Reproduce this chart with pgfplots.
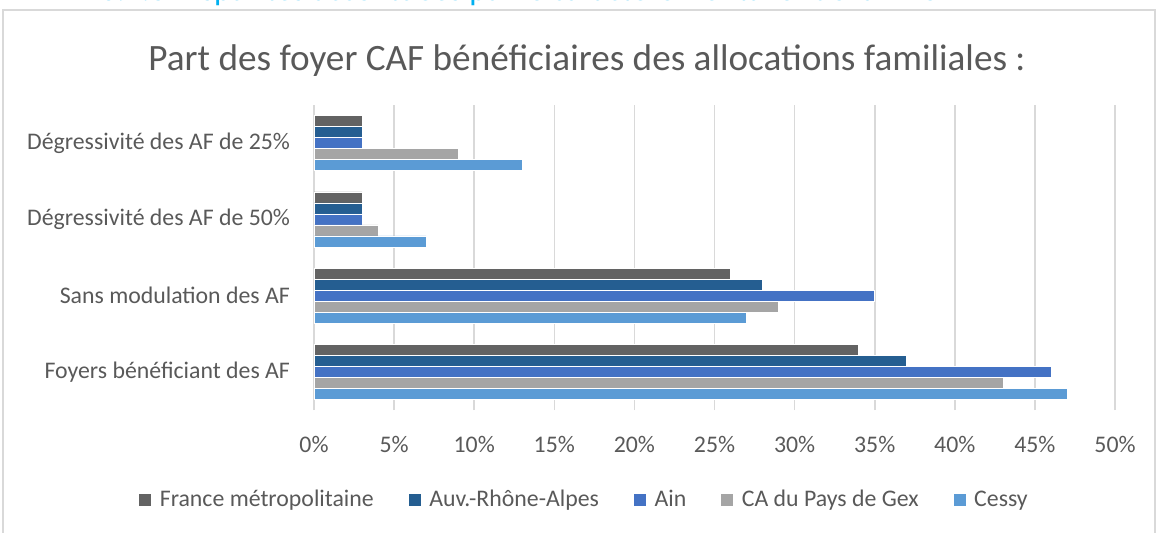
\documentclass[border=0pt]{standalone}
\usepackage{pgfplots}
\pgfplotsset{compat=1.18}
\usepackage{fontspec}
\setmainfont{Carlito}
\definecolor{cFrance}{HTML}{636363}
\definecolor{cAuv}{HTML}{255E91}
\definecolor{cAin}{HTML}{4472C4}
\definecolor{cGex}{HTML}{A5A5A5}
\definecolor{cCessy}{HTML}{5B9BD5}
\definecolor{txt}{HTML}{595959}
\definecolor{cGrid}{HTML}{D9D9D9}
\definecolor{head}{HTML}{00B0F0}
\begin{document}
\begin{tikzpicture}
\useasboundingbox (0,0) rectangle (578pt,266pt);
\clip (0,0) rectangle (578pt,266pt);
% heading of the page, cut by the crop
\node[anchor=base west,inner sep=0pt,text=head,font=\fontsize{16.3}{18}\selectfont] at (50pt,265.5pt)
  {3.1.3 Disparités accentuées par le caractère frontalier de la ville};
% chart frame
\draw[cGrid,line width=0.7pt] (1.5pt,-10pt) rectangle (577.5pt,261pt);
\node[anchor=base,inner sep=0pt,text=txt,font=\fontsize{18.6}{21}\selectfont] at (293.5pt,231pt)
  {Part des foyer CAF bénéficiaires des allocations familiales :};
\begin{axis}[
  at={(157pt,61pt)},anchor=south west,
  scale only axis,width=400.5pt,height=152.5pt,
  xbar,bar width=5.5pt,
  xmin=0,xmax=50,ymin=-0.5,ymax=3.5,
  xtick={0,5,...,50},
  xticklabels={0\%,5\%,10\%,15\%,20\%,25\%,30\%,35\%,40\%,45\%,50\%},
  ytick={0,1,2,3},
  yticklabels={Foyers bénéficiant des AF,Sans modulation des AF,Dégressivité des AF de 50\%,Dégressivité des AF de 25\%},
  xmajorgrids,major grid style={cGrid,line width=0.8pt},
  axis line style={draw=none},major tick length=0pt,
  tick label style={text=txt,font=\fontsize{11.9}{13}\selectfont},
  xticklabel style={yshift=-9.5pt},
  yticklabel style={xshift=-8.5pt},
  legend columns=-1,
  legend style={at={(0.3383,-0.295)},anchor=center,draw=none,fill=none,
    text=txt,font=\fontsize{11.9}{13}\selectfont,
    /tikz/every odd column/.append style={column sep=2pt},
    /tikz/every even column/.append style={column sep=15pt}},
  legend image code/.code={\fill[#1] (0pt,-3.25pt) rectangle (6.5pt,3.25pt);},
  every axis plot/.append style={draw=white,line width=0.3pt},
]
\addplot[fill=cFrance,bar shift=11pt] coordinates {(34,0) (26,1) (3,2) (3,3)};
\addplot[fill=cAuv,bar shift=5.5pt] coordinates {(37,0) (28,1) (3,2) (3,3)};
\addplot[fill=cAin,bar shift=0pt] coordinates {(46,0) (35,1) (3,2) (3,3)};
\addplot[fill=cGex,bar shift=-5.5pt] coordinates {(43,0) (29,1) (4,2) (9,3)};
\addplot[fill=cCessy,bar shift=-11pt] coordinates {(47,0) (27,1) (7,2) (13,3)};
\legend{France métropolitaine,Auv.-Rhône-Alpes,Ain,CA du Pays de Gex,Cessy}
\end{axis}
\end{tikzpicture}
\end{document}
